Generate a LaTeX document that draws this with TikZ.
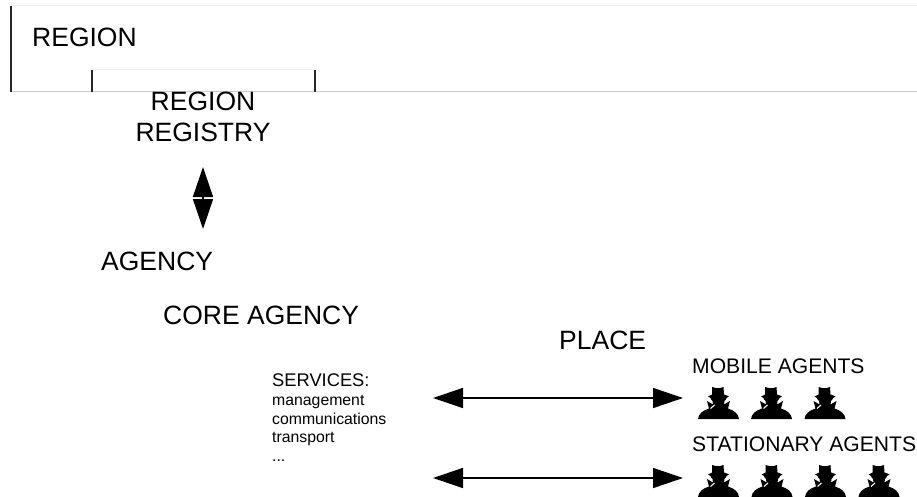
\documentclass[tikz,border=0pt]{standalone}
\usepackage{fontspec}
\setmainfont{Liberation Sans}
\usetikzlibrary{arrows.meta}
\tikzset{
  x=1pt,y=-1pt,
  lab/.style={anchor=base west,inner sep=0pt,font=\fontsize{#1}{#1}\selectfont},
  labc/.style={anchor=base,inner sep=0pt,font=\fontsize{#1}{#1}\selectfont},
  frameside/.style={line width=1.5pt,black!85},
  twoway/.style={line width=1.5pt,{Triangle[length=30pt,width=20pt]}-{Triangle[length=30pt,width=20pt]}},
  agent/.pic={
    \fill[black] (-20.5,0) .. controls (-20,-5) and (-16,-8.5) .. (-9.5,-10.5)
      -- (-11.5,-18) -- (-5.5,-14.5) -- (-6,-18) .. controls (-7,-19) and (-8,-20) .. (-8,-21)
      -- (-10.5,-22.5) .. controls (-8,-24) and (-7,-24) .. (-6.5,-24.5) -- (-6.5,-32)
      .. controls (-3,-31) and (-1,-30.5) .. (-0.5,-31) .. controls (0.5,-30.5) and (2.5,-31) .. (5,-32)
      -- (5.5,-24.5) .. controls (6.5,-24) and (8,-24) .. (10.5,-22.5) -- (8,-21)
      .. controls (8,-20) and (7,-19) .. (6,-18) -- (5.5,-14.5) -- (11.5,-18) -- (9.5,-10.5)
      .. controls (16,-8.5) and (20,-5) .. (20.5,0) -- cycle;
    \draw[white,line width=1.1pt] (-8,-10.5) -- (-4,-14);
  }
}
\begin{document}
\begin{tikzpicture}
\useasboundingbox (0,0) rectangle (917,497);
% region frame
\coordinate (rtl) at (11,6); \coordinate (rbl) at (11,92);
\coordinate (rtr) at (917,6); \coordinate (rbr) at (917,92);
\coordinate (itl) at (92,70); \coordinate (ibl) at (92,92);
\coordinate (itr) at (315,70); \coordinate (ibr) at (315,92);
\draw[line width=1pt,black!6] (rtl) -- (rtr);
\draw[line width=1pt,black!6] (itl) -- (itr);
\draw[line width=1pt,black!20] (rbl) -- (rbr);
\draw[frameside] (rtl) -- (rbl);
\draw[frameside] (itl) -- (ibl);
\draw[frameside] (itr) -- (ibr);
% labels
\node[lab=26.5] (region) at (32,46.7) {REGION};
\node[labc=26.5] (rr1) at (203,110.7) {REGION};
\node[labc=26.5] (rr2) at (203,141.7) {REGISTRY};
\node[lab=26.5] (agency) at (101,270) {AGENCY};
\node[lab=26.5] (core) at (163,324) {CORE AGENCY};
\node[lab=26.5] (place) at (559,349) {PLACE};
\node[lab=21.1] (mobile) at (692,373.7) {MOBILE AGENTS};
\node[lab=21.1] (stationary) at (692,451.7) {STATIONARY AGENTS};
\node[lab=18.3] (services) at (272,386.7) {SERVICES:};
\node[lab=15.8] (s1) at (272,405) {management};
\node[lab=15.8] (s2) at (272,424) {communications};
\node[lab=15.8] (s3) at (272,442) {transport};
\node[lab=15.8] (s4) at (272,461) {...};
% arrows
\coordinate (vt) at (203,167); \coordinate (vb) at (203,229);
\draw[twoway] (vt) -- (vb);
\coordinate (a1l) at (433,398); \coordinate (a1r) at (683,398);
\coordinate (a2l) at (433,478); \coordinate (a2r) at (683,478);
\draw[twoway] (a1l) -- (a1r);
\draw[twoway] (a2l) -- (a2r);
% agents
\pic at (718.5,419) {agent};
\pic at (771.5,419) {agent};
\pic at (825,419) {agent};
\begin{scope}
\clip (0,0) rectangle (917,497);
\pic at (718.5,497) {agent};
\pic at (772,497) {agent};
\pic at (825.5,497) {agent};
\pic at (879,497) {agent};
\end{scope}
\end{tikzpicture}
\end{document}
